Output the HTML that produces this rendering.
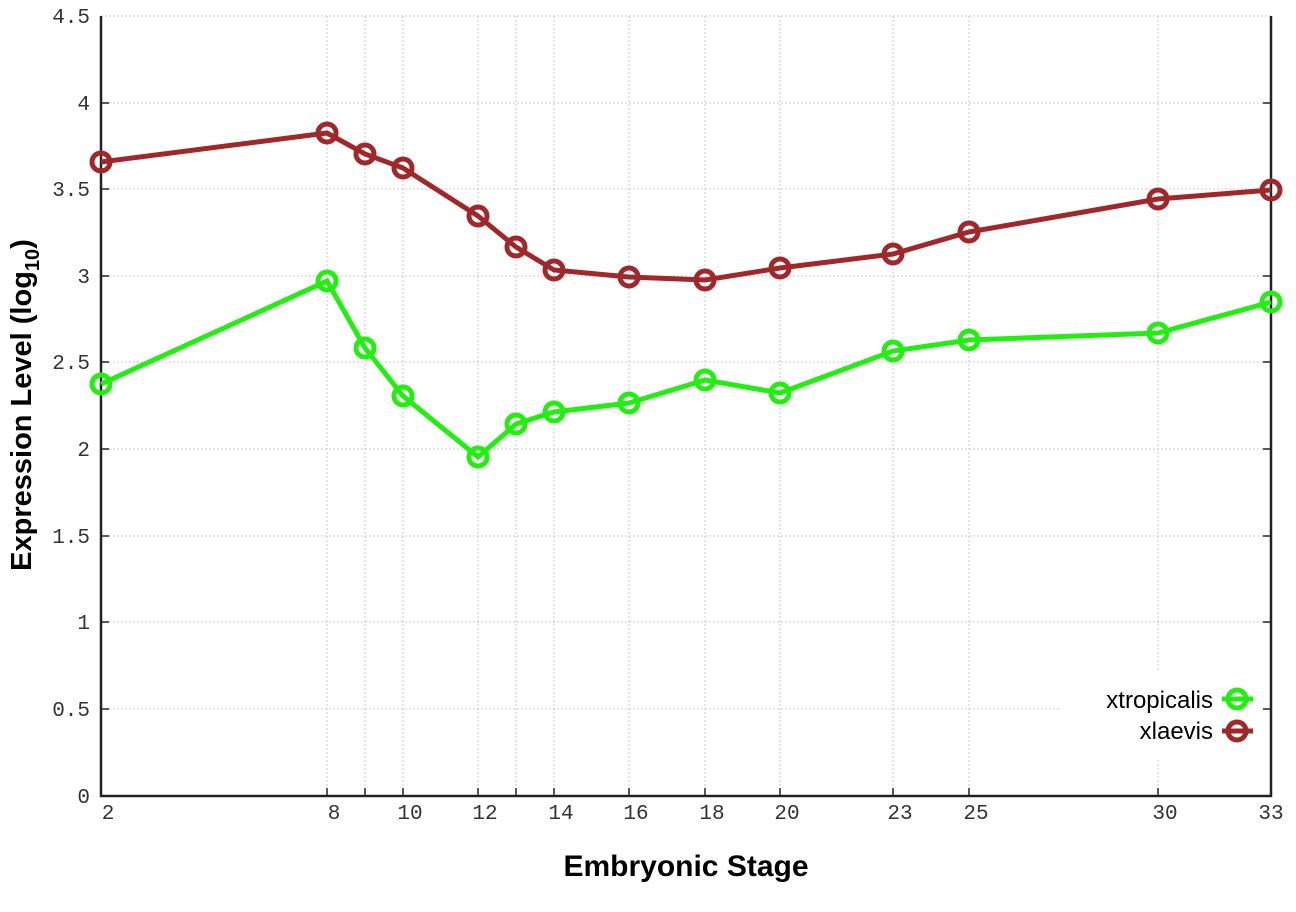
<!DOCTYPE html>
<html><head><style>body{margin:0;background:#fff}</style></head><body>
<svg width="1296" height="907" xmlns="http://www.w3.org/2000/svg" font-family="Liberation Mono, monospace">
<g stroke="#c8c8c8" stroke-dasharray="2,2" stroke-width="1">
<line x1="101" x2="1271" y1="709" y2="709"/><line x1="101" x2="1271" y1="622" y2="622"/><line x1="101" x2="1271" y1="536" y2="536"/><line x1="101" x2="1271" y1="449" y2="449"/><line x1="101" x2="1271" y1="362" y2="362"/><line x1="101" x2="1271" y1="276" y2="276"/><line x1="101" x2="1271" y1="189" y2="189"/><line x1="101" x2="1271" y1="103" y2="103"/><line x1="101" x2="1271" y1="16" y2="16"/>
<line x1="327" x2="327" y1="16" y2="796"/><line x1="365" x2="365" y1="16" y2="796"/><line x1="403" x2="403" y1="16" y2="796"/><line x1="478" x2="478" y1="16" y2="796"/><line x1="516" x2="516" y1="16" y2="796"/><line x1="554" x2="554" y1="16" y2="796"/><line x1="629" x2="629" y1="16" y2="796"/><line x1="705" x2="705" y1="16" y2="796"/><line x1="780" x2="780" y1="16" y2="796"/><line x1="893" x2="893" y1="16" y2="796"/><line x1="969" x2="969" y1="16" y2="796"/><line x1="1158" x2="1158" y1="16" y2="796"/>
</g>
<rect x="1060" y="670" width="205" height="90" fill="#fff"/>
<g stroke="#222" stroke-width="2.5" fill="none"><polyline points="101,16 101,796 1271,796 1271,16"/></g>
<g stroke="#222" stroke-width="1.5">
<line x1="101" x2="109" y1="709" y2="709"/><line x1="101" x2="109" y1="622" y2="622"/><line x1="101" x2="109" y1="536" y2="536"/><line x1="101" x2="109" y1="449" y2="449"/><line x1="101" x2="109" y1="362" y2="362"/><line x1="101" x2="109" y1="276" y2="276"/><line x1="101" x2="109" y1="189" y2="189"/><line x1="101" x2="109" y1="103" y2="103"/>
<line x1="1263" x2="1271" y1="709" y2="709"/><line x1="1263" x2="1271" y1="622" y2="622"/><line x1="1263" x2="1271" y1="536" y2="536"/><line x1="1263" x2="1271" y1="449" y2="449"/><line x1="1263" x2="1271" y1="362" y2="362"/><line x1="1263" x2="1271" y1="276" y2="276"/><line x1="1263" x2="1271" y1="189" y2="189"/><line x1="1263" x2="1271" y1="103" y2="103"/>
<line x1="327" x2="327" y1="788" y2="796"/><line x1="365" x2="365" y1="788" y2="796"/><line x1="403" x2="403" y1="788" y2="796"/><line x1="478" x2="478" y1="788" y2="796"/><line x1="516" x2="516" y1="788" y2="796"/><line x1="554" x2="554" y1="788" y2="796"/><line x1="629" x2="629" y1="788" y2="796"/><line x1="705" x2="705" y1="788" y2="796"/><line x1="780" x2="780" y1="788" y2="796"/><line x1="893" x2="893" y1="788" y2="796"/><line x1="969" x2="969" y1="788" y2="796"/><line x1="1158" x2="1158" y1="788" y2="796"/>
</g>
<g font-size="21" fill="#333" text-anchor="end">
<text x="90" y="803">0</text><text x="90" y="716">0.5</text><text x="90" y="629">1</text><text x="90" y="543">1.5</text><text x="90" y="456">2</text><text x="90" y="369">2.5</text><text x="90" y="283">3</text><text x="90" y="196">3.5</text><text x="90" y="110">4</text><text x="90" y="23">4.5</text>
</g>
<g font-size="21" fill="#333" text-anchor="middle">
<text x="108" y="819">2</text><text x="334" y="819">8</text><text x="410" y="819">10</text><text x="485" y="819">12</text><text x="561" y="819">14</text><text x="636" y="819">16</text><text x="712" y="819">18</text><text x="787" y="819">20</text><text x="900" y="819">23</text><text x="976" y="819">25</text><text x="1165" y="819">30</text><text x="1271" y="819">33</text>
</g>
<g font-family="Liberation Sans, sans-serif" font-weight="bold" font-size="30" fill="#000">
<text x="686" y="876" text-anchor="middle">Embryonic Stage</text>
<text transform="translate(31,405) rotate(-90)" text-anchor="middle" font-size="29">Expression Level (log<tspan font-size="20" dy="8">10</tspan><tspan dy="-8">)</tspan></text>
</g>
<g font-family="Liberation Sans, sans-serif" font-size="24" fill="#000" text-anchor="end">
<text x="1213" y="708">xtropicalis</text><text x="1213" y="739">xlaevis</text>
</g>
<g fill="none" stroke-width="5">
<line x1="1222" x2="1253" y1="699" y2="699" stroke="#22ee11"/><circle cx="1237" cy="699" r="9" stroke="#22ee11"/>
<line x1="1222" x2="1253" y1="731" y2="731" stroke="#a0282a"/><circle cx="1237" cy="731" r="9" stroke="#a0282a"/>
</g>
<g fill="none" stroke="#a0282a" stroke-width="5">
<polyline points="101,162 327,133 365,154 403,168 478,216 516,247 554,270 629,277 705,280 780,268 893,254 969,232 1158,199 1271,190"/>
<circle cx="101" cy="162" r="9"/><circle cx="327" cy="133" r="9"/><circle cx="365" cy="154" r="9"/><circle cx="403" cy="168" r="9"/><circle cx="478" cy="216" r="9"/><circle cx="516" cy="247" r="9"/><circle cx="554" cy="270" r="9"/><circle cx="629" cy="277" r="9"/><circle cx="705" cy="280" r="9"/><circle cx="780" cy="268" r="9"/><circle cx="893" cy="254" r="9"/><circle cx="969" cy="232" r="9"/><circle cx="1158" cy="199" r="9"/><circle cx="1271" cy="190" r="9"/>
</g>
<g fill="none" stroke="#22ee11" stroke-width="5">
<polyline points="101,384 327,281 365,348 403,396 478,457 516,424 554,412 629,403 705,380 780,393 893,351 969,340 1158,333 1271,302"/>
<circle cx="101" cy="384" r="9"/><circle cx="327" cy="281" r="9"/><circle cx="365" cy="348" r="9"/><circle cx="403" cy="396" r="9"/><circle cx="478" cy="457" r="9"/><circle cx="516" cy="424" r="9"/><circle cx="554" cy="412" r="9"/><circle cx="629" cy="403" r="9"/><circle cx="705" cy="380" r="9"/><circle cx="780" cy="393" r="9"/><circle cx="893" cy="351" r="9"/><circle cx="969" cy="340" r="9"/><circle cx="1158" cy="333" r="9"/><circle cx="1271" cy="302" r="9"/>
</g>
</svg>
</body></html>
